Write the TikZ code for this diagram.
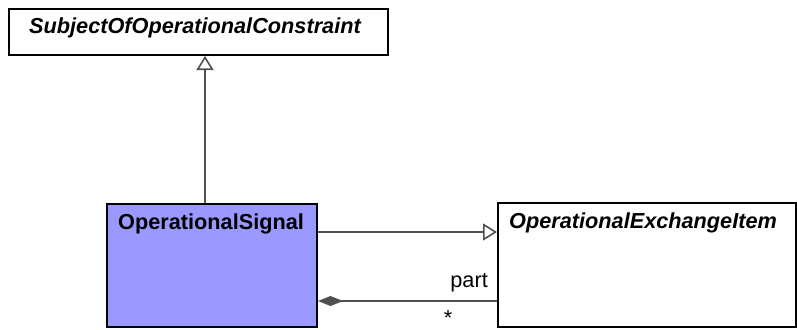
\documentclass[tikz,border=0pt]{standalone}
\usepackage{fontspec}
\setmainfont{Liberation Sans}
\usetikzlibrary{arrows.meta}
\definecolor{sigfill}{RGB}{153,153,255}
\definecolor{conn}{RGB}{80,80,80}
\begin{document}
\begin{tikzpicture}[x=1pt,y=-1pt,
  box/.style={draw=black,line width=2pt,inner sep=0pt,fill=white},
  title/.style={anchor=base west,inner sep=0pt,font=\fontsize{21.7}{26}\selectfont\bfseries},
  gen/.style={draw=conn,line width=1.6pt,-{Triangle[open,length=14pt,width=17pt,line width=1.6pt]}},
  comp/.style={draw=conn,line width=1.6pt,-{Diamond[length=25pt,width=10pt,fill=conn]}},
  lbl/.style={inner sep=0pt,font=\fontsize{21.7}{26}\selectfont}]
\useasboundingbox (0,0) rectangle (797,329);
\fill[white] (0,0) rectangle (797,329);
\node[box,minimum width=379pt,minimum height=46pt] (top) at (198.5,32) {};
\node[title] (toptxt) at (29,34) {\itshape SubjectOfOperationalConstraint};
\node[box,fill=sigfill,minimum width=210pt,minimum height=123pt] (sig) at (212,265.5) {};
\node[title] (sigtxt) at (118,229) {OperationalSignal};
\node[box,minimum width=298pt,minimum height=124pt] (ex) at (647,265) {};
\node[title] (extxt) at (509,228) {\itshape OperationalExchangeItem};
\coordinate (gx) at (205,0);
\coordinate (g2) at (0,232);
\coordinate (c1) at (0,301);
\draw[gen] (sig.north -| gx) -- (top.south -| gx);
\draw[gen] (sig.east |- g2) -- (ex.west |- g2);
\draw[comp] (ex.west |- c1) -- (sig.east |- c1);
\node[lbl,anchor=base east] (part) at (488,287) {part};
\node[lbl,anchor=center] (mult) at (448,318) {*};
\end{tikzpicture}
\end{document}
